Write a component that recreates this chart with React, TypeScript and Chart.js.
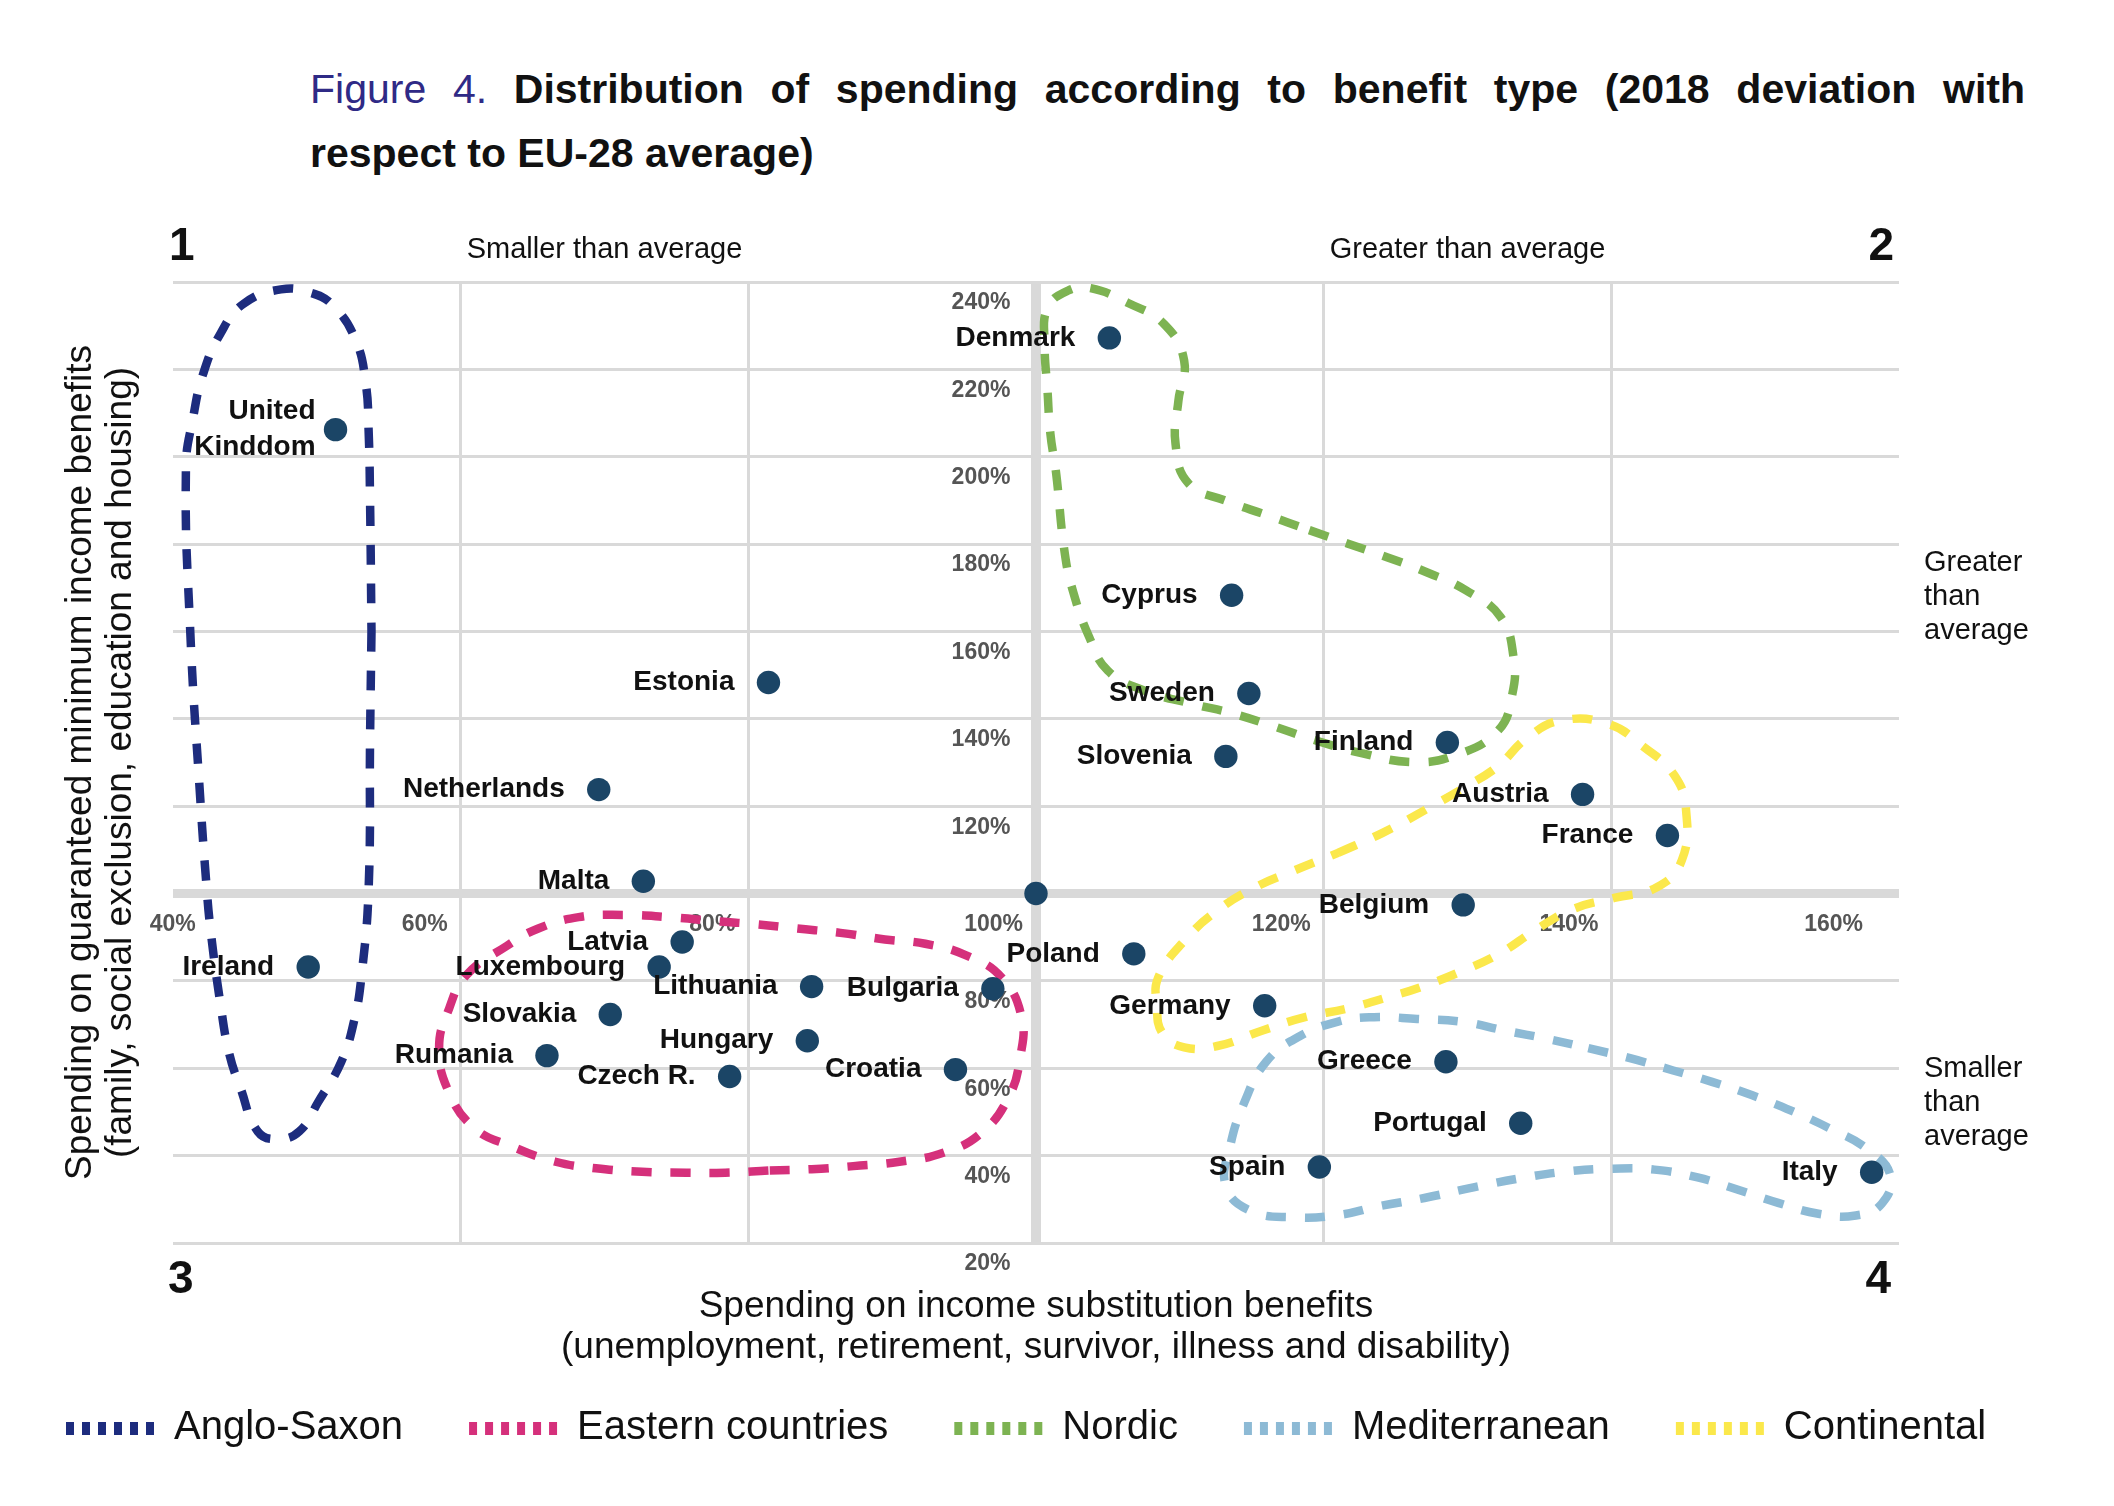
import React, { useEffect, useRef } from 'react'
import Chart from 'chart.js/auto'

const FONT = '"Liberation Sans", Arial, Helvetica, sans-serif'

// one dot per country: x = income substitution spending, y = guaranteed minimum income spending (EU-28 = 100%)
const countries = [
  'Denmark', 'United\nKinddom', 'Cyprus', 'Estonia', 'Sweden', 'Finland', 'Slovenia', 'Netherlands',
  'Austria', 'France', 'Malta', '', 'Belgium', 'Latvia', 'Poland', 'Ireland', 'Luxembourg', 'Lithuania',
  'Bulgaria', 'Germany', 'Slovakia', 'Hungary', 'Rumania', 'Greece', 'Croatia', 'Czech R.', 'Portugal',
  'Spain', 'Italy',
]
const substitutionPct = [
  105.1, 51.3, 113.6, 81.4, 114.8, 128.6, 113.2, 69.6,
  138.0, 143.9, 72.7, 100, 129.7, 75.4, 106.8, 49.4, 73.8, 84.4,
  97.0, 115.9, 70.4, 84.1, 66.0, 128.5, 94.4, 78.7, 133.7,
  119.7, 158.1,
]
const minimumIncomePct = [
  227.2, 206.2, 168.3, 148.3, 145.8, 134.6, 131.4, 123.8,
  122.7, 113.3, 102.8, 100, 97.4, 88.9, 86.2, 83.2, 83.2, 78.7,
  78.2, 74.3, 72.3, 66.3, 62.9, 61.5, 59.7, 58.1, 47.4,
  37.4, 36.2,
]

const groupNames = ['Anglo-Saxon', 'Eastern countries', 'Nordic', 'Mediterranean', 'Continental']
const groupColors = ['#1d2c7e', '#d5307b', '#7db352', '#8dbad5', '#fbe84b']

// hand-drawn group outlines, [x %, y %]
const angloSaxonOutline: [number, number][] = [
  [53.8, 160], [53.7, 135], [53.6, 101], [53.1, 81], [52.6, 71], [51.7, 61.5], [50.1, 52.3], [48.8, 45.6],
  [47.3, 43.8], [45.9, 45.5], [44.7, 55.4], [43.9, 63.5], [43.3, 74.7], [42.6, 92], [42.3, 103], [41.9, 121.5],
  [41.2, 160], [40.9, 197.7], [41.4, 209], [42.1, 219], [43.3, 228.2], [44.9, 235], [47.5, 238.3], [49.5, 237.6],
  [51.1, 234.7], [52.7, 226.7], [53.4, 216.8], [53.6, 206], [53.7, 190],
]
const easternOutline: [number, number][] = [
  [81.4, 36.6], [78.4, 36.1], [75.7, 36.1], [72.6, 36.3], [69.4, 37.1], [66.6, 38.6], [63.5, 42.2], [61.0, 46.2],
  [59.2, 54.4], [58.5, 64.6], [59.2, 73.7], [60.4, 81.3], [63.2, 88.0], [65.4, 92.0], [68.2, 94.6], [71.3, 95.1],
  [74.4, 94.6], [78.0, 93.6], [80.5, 93.0], [83.4, 92.0], [86.4, 91.0], [89.5, 89.5], [92.3, 88.5], [95.1, 85.9],
  [97.6, 80.8], [99.0, 71.7], [98.9, 62.5], [98.1, 53.4], [96.2, 45.2], [93.6, 40.7], [90.5, 38.6], [87.3, 37.6],
  [84.4, 36.9],
]
const nordicOutline: [number, number][] = [
  [119.0, 183.2], [121.7, 180.1], [124.4, 177.0], [127.2, 173.5], [129.9, 169.4], [132.3, 163.3], [133.2, 154.1],
  [133.1, 145.4], [132.1, 137.2], [129.1, 131.6], [126.2, 130.1], [122.7, 132.1], [119.3, 135.2], [116.5, 138.3],
  [113.6, 141.3], [110.9, 143.4], [107.5, 146.5], [105.0, 151], [103.7, 158.7], [102.6, 168.9], [102.0, 177.9],
  [101.4, 196.2], [101.0, 205.3], [100.8, 215.1], [100.6, 225.9], [100.8, 234], [102.2, 238.0], [103.8, 238.6],
  [106.4, 235.2], [108.9, 230.4], [110.3, 222.0], [109.9, 212.8], [109.7, 203.0], [110.6, 193.9], [113.3, 189.8],
  [116.0, 186.7],
]
const mediterraneanOutline: [number, number][] = [
  [138.4, 64.6], [141.3, 62.3], [144.3, 59.5], [147.0, 56.9], [149.8, 53.8], [152.5, 50.3], [155.2, 46.2],
  [157.8, 41.5], [159.4, 35.5], [158.8, 29.0], [157.0, 26.3], [154.4, 26.7], [151.6, 29.2], [148.7, 32.3],
  [146.0, 35.0], [143.0, 36.8], [140.0, 37.0], [137.0, 36.4], [134.0, 35.0], [130.5, 32.8], [127.0, 30.3],
  [123.8, 28.4], [121.0, 26.4], [117.9, 25.9], [114.9, 27.4], [113.2, 33.0], [113.5, 42.2], [114.5, 52.3],
  [116.0, 61.5], [118.2, 67.1], [121.0, 70.7], [123.5, 71.7], [126.5, 71.3], [129.7, 70.6], [132.5, 68.7],
  [135.6, 66.7],
]
const continentalOutline: [number, number][] = [
  [121.0, 109.3], [124.1, 113.9], [127.2, 119.4], [129.8, 124.3], [132.1, 129.1], [134.1, 135.5], [136.5, 139.6],
  [139.8, 138.8], [142.2, 133.7], [144.4, 127.0], [145.2, 118.9], [144.9, 107.6], [143.2, 101.5], [140.2, 99.0],
  [137.3, 96.4], [134.8, 91.8], [132.2, 86.2], [129.5, 82.1], [126.7, 78.5], [124.5, 76.3], [121.7, 73.7],
  [118.7, 71.7], [115.7, 68.6], [112.6, 65.1], [110.3, 64.8], [108.8, 68.0], [108.4, 74.5], [108.5, 80.8],
  [110.4, 89.5], [112.6, 96.1], [115.1, 101.2], [117.9, 105.2],
]
const outlines = [angloSaxonOutline, easternOutline, nordicOutline, mediterraneanOutline, continentalOutline]

const xTickValues = [40, 60, 80, 100, 120, 140, 160]
const yTickValues = [20, 40, 60, 80, 100, 120, 140, 160, 180, 200, 220, 240]

const figureLabel = 'Figure 4.'
const titleLine1 = 'Distribution of spending according to benefit type (2018 deviation with'
const titleLine2 = 'respect to EU-28 average)'
const yTitle = ['Spending on guaranteed minimum income benefits', '(family, social exclusion, education and housing)']
const xTitle = ['Spending on income substitution benefits', '(unemployment, retirement, survivor, illness and disability)']
const cornerNumbers = ['1', '2', '3', '4']
const topLabels = ['Smaller than average', 'Greater than average']
const sideLabels = [['Greater', 'than', 'average'], ['Smaller', 'than', 'average']]

// legend symbol: six short dashes, drawn a little wider than the legend box so it sits close to the text
function makeSwatch(color: string) {
  const c = document.createElement('canvas')
  c.width = 146
  c.height = 13
  const g = c.getContext('2d')
  if (g) {
    g.fillStyle = color
    for (let i = 0; i < 6; i++) g.fillRect(52 + i * 16, 0, 8, 13)
  }
  return c
}

const countryLabels = {
  id: 'countryLabels',
  afterDatasetsDraw(chart: any) {
    const { ctx } = chart
    const meta = chart.getDatasetMeta(0)
    ctx.save()
    ctx.font = `bold 28px ${FONT}`
    ctx.fillStyle = '#111'
    ctx.textAlign = 'right'
    ctx.textBaseline = 'middle'
    meta.data.forEach((pt: any, i: number) => {
      const lines = countries[i].split('\n')
      const gap = lines.length > 1 ? 20 : 34
      lines.forEach((line, j) => {
        ctx.fillText(line, pt.x - gap, pt.y + (j - (lines.length - 1) / 2) * 36)
      })
    })
    ctx.restore()
  },
}

const quadrantNotes = {
  id: 'quadrantNotes',
  afterDraw(chart: any) {
    const { ctx, chartArea: a, scales } = chart
    const mid = scales.x.getPixelForValue(100)
    ctx.save()
    ctx.fillStyle = '#111'
    ctx.textBaseline = 'middle'
    ctx.font = `bold 46px ${FONT}`
    ctx.textAlign = 'left'
    ctx.fillText(cornerNumbers[0], a.left - 4, a.top - 35)
    ctx.fillText(cornerNumbers[2], a.left - 5, a.bottom + 37)
    ctx.textAlign = 'right'
    ctx.fillText(cornerNumbers[1], a.right - 5, a.top - 35)
    ctx.fillText(cornerNumbers[3], a.right - 8, a.bottom + 37)
    ctx.font = `29px ${FONT}`
    ctx.textAlign = 'center'
    ctx.fillText(topLabels[0], (a.left + mid) / 2, a.top - 32)
    ctx.fillText(topLabels[1], (mid + a.right) / 2, a.top - 32)
    ctx.textAlign = 'left'
    const at = [168, 52]
    sideLabels.forEach((lines, i) => {
      const cy = scales.y.getPixelForValue(at[i])
      lines.forEach((l, j) => ctx.fillText(l, a.right + 25, cy + (j - 1) * 34))
    })
    ctx.restore()
  },
}

function SpendingChart() {
  const canvasRef = useRef<HTMLCanvasElement>(null)
  const chartRef = useRef<Chart | null>(null)

  useEffect(() => {
    if (chartRef.current) { chartRef.current.destroy(); chartRef.current = null }
    if (!canvasRef.current) return
    const ctx = canvasRef.current.getContext('2d')
    if (!ctx) return

    const groupSets = outlines.map((pts, i) => ({
      type: 'scatter' as const,
      label: groupNames[i],
      data: [...pts, pts[0]].map(([x, y]) => ({ x, y })),
      showLine: true,
      borderColor: groupColors[i],
      backgroundColor: groupColors[i],
      borderWidth: 8.5,
      borderDash: [20, 19],
      borderCapStyle: 'butt' as const,
      tension: 0.45,
      fill: false,
      pointRadius: 0,
      pointHoverRadius: 0,
      pointStyle: makeSwatch(groupColors[i]),
      clip: false as const,
    }))

    chartRef.current = new Chart(ctx, {
      type: 'scatter',
      data: {
        datasets: [
          {
            label: 'Countries',
            data: substitutionPct.map((x, i) => ({ x, y: minimumIncomePct[i] })),
            pointRadius: 11.7,
            backgroundColor: '#1b4566',
            borderWidth: 0,
            clip: false as const,
          },
          ...groupSets,
        ],
      },
      options: {
        responsive: true, maintainAspectRatio: false, animation: false, events: [],
        layout: { padding: { top: 97, right: 0, bottom: 48, left: 0 } },
        scales: {
          x: {
            type: 'linear', min: 40, max: 160, position: { y: 100 },
            afterBuildTicks: (scale: any) => { scale.ticks = xTickValues.map((value) => ({ value })) },
            border: { display: false },
            grid: {
              drawTicks: false,
              color: (c: any) => (c.tick && (c.tick.value === 40 || c.tick.value === 160) ? 'rgba(0,0,0,0)' : '#d9d9d9'),
              lineWidth: (c: any) => (c.tick && c.tick.value === 100 ? 10 : 3),
            },
            ticks: {
              autoSkip: false, maxRotation: 0, align: 'inner', labelOffset: -36, padding: 17, color: '#555',
              font: { family: FONT, size: 23, weight: 'bold' },
              callback: (v: any, i: number, ticks: any[]) => {
                if (i === 0) return `  ${v}%`
                if (i === ticks.length - 1) return `${v}%`
                return v >= 100 ? `${v}%  ` : `${v}%`
              },
            },
          },
          y: {
            type: 'linear', min: 20, max: 240, position: { x: 100 },
            afterBuildTicks: (scale: any) => { scale.ticks = yTickValues.map((value) => ({ value })) },
            border: { display: false },
            grid: {
              drawTicks: false,
              color: '#d9d9d9',
              lineWidth: (c: any) => (c.tick && c.tick.value === 100 ? 9 : 3),
            },
            ticks: {
              autoSkip: false, color: '#555',
              font: { family: FONT, size: 23, weight: 'bold', lineHeight: 42 / 23 },
              callback: (v: any) => (v === 100 ? '' : ['', `${v}%    `]),
            },
          },
          // empty right-hand axis that only keeps room for the side notes
          side: {
            type: 'linear', position: 'right', display: true,
            grid: { display: false }, border: { display: false }, ticks: { display: false },
            afterFit: (scale: any) => { scale.width = 215 },
          },
        },
        plugins: {
          tooltip: { enabled: false },
          title: {
            display: true, position: 'left', fullSize: false, text: yTitle, color: '#111',
            font: { family: FONT, size: 37, weight: 'normal', lineHeight: 40 / 37 },
            padding: { top: 61, bottom: 32 },
          },
          subtitle: {
            display: true, position: 'bottom', fullSize: false, weight: 500, text: xTitle, color: '#111',
            font: { family: FONT, size: 37, weight: 'normal', lineHeight: 41 / 37 },
            padding: { top: 43, bottom: 20 },
          },
          legend: {
            position: 'bottom', align: 'start', weight: 1000,
            labels: {
              usePointStyle: true, pointStyleWidth: 134, padding: 20, color: '#111',
              font: { family: FONT, size: 40 },
              filter: (item: any) => item.datasetIndex !== 0,
            },
          },
        },
      } as any,
      plugins: [countryLabels, quadrantNotes],
    })

    return () => { if (chartRef.current) chartRef.current.destroy() }
  }, [])

  return <canvas ref={canvasRef} />
}

export default function App() {
  return (
    <div style={{ position: 'absolute', left: 0, top: 0, width: 2114, height: 1506, background: '#fff', overflow: 'hidden', fontFamily: FONT }}>
      <div style={{ position: 'absolute', left: 310, top: 57, width: 1715, fontSize: 41, lineHeight: '64px', color: '#111', fontWeight: 700 }}>
        <div style={{ textAlign: 'justify', textAlignLast: 'justify', whiteSpace: 'nowrap' as const }}>
          <span style={{ color: '#2f2a86', fontWeight: 400 }}>{figureLabel}</span> {titleLine1}
        </div>
        <div>{titleLine2}</div>
      </div>
      <div style={{ position: 'absolute', left: 0, top: 185, width: 2114, height: 1321 }}>
        <SpendingChart />
      </div>
    </div>
  )
}
